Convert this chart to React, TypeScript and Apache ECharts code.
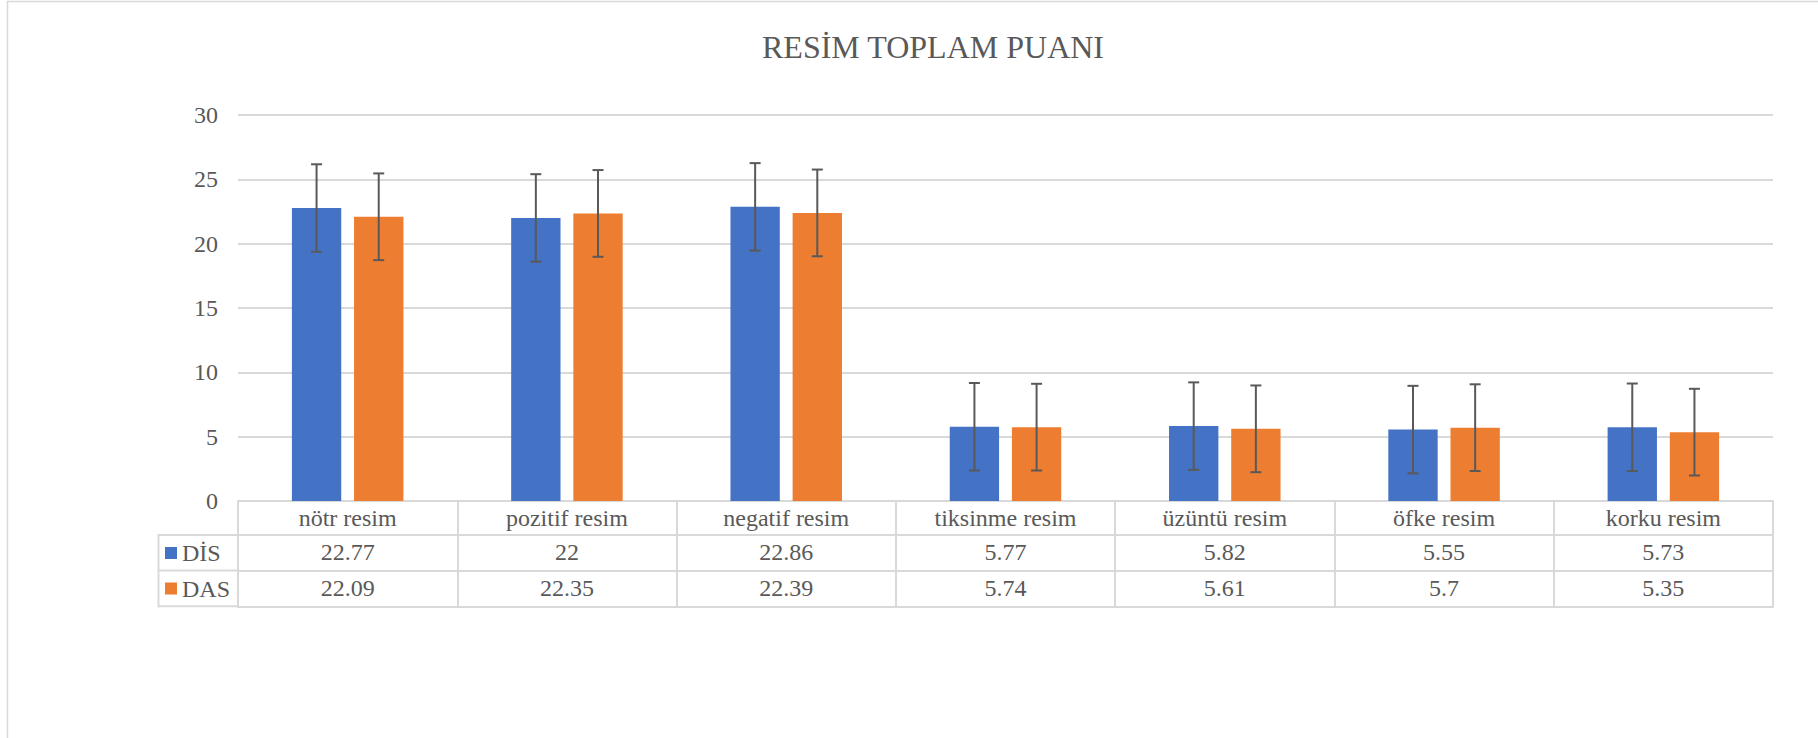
import React, { useEffect, useRef } from 'react';
import * as echarts from 'echarts';

const categories = ['nötr resim', 'pozitif resim', 'negatif resim', 'tiksinme resim', 'üzüntü resim', 'öfke resim', 'korku resim'];
const seriesNames = ['DİS', 'DAS'];
const disValues = [22.77, 22, 22.86, 5.77, 5.82, 5.55, 5.73];
const dasValues = [22.09, 22.35, 22.39, 5.74, 5.61, 5.7, 5.35];
const disErrors = [3.4, 3.4, 3.4, 3.4, 3.4, 3.4, 3.4];
const dasErrors = [3.37, 3.37, 3.37, 3.37, 3.37, 3.37, 3.37];
const yMin = 0;
const yMax = 30;
const yStep = 5;
const titleText = 'RESİM TOPLAM PUANI';

const FONT = 'Liberation Serif';
const TEXT = '#595959';
const LINE = '#d9d9d9';
const COLORS = ['#4472C4', '#ED7D31'];
const BAR_W = 0.225;
const BAR_GAP = 0.26;

export default function App() {
  const ref = useRef<HTMLDivElement>(null);

  useEffect(() => {
    if (!ref.current) return;
    const chart = echarts.init(ref.current, null, { renderer: 'svg' });

    const errData = (vals: number[], errs: number[]) => vals.map((v, i) => [i, v, errs[i]]);
    const makeErr = (sign: number) => (params: any, api: any) => {
      const i = api.value(0);
      const v = api.value(1);
      const e = api.value(2);
      const band = api.size([1, 0])[0];
      const off = (band * BAR_W * (1 + BAR_GAP) / 2) * sign;
      const top = api.coord([i, v + e]);
      const bot = api.coord([i, v - e]);
      const x = top[0] + off;
      const style = { stroke: TEXT, lineWidth: 2 };
      return {
        type: 'group',
        children: [
          { type: 'line', shape: { x1: x, y1: top[1], x2: x, y2: bot[1] }, style },
          { type: 'line', shape: { x1: x - 5.5, y1: top[1], x2: x + 5.5, y2: top[1] }, style },
          { type: 'line', shape: { x1: x - 5.5, y1: bot[1], x2: x + 5.5, y2: bot[1] }, style },
        ],
      };
    };

    const labelStyle = { fontSize: 24, color: TEXT, fontFamily: FONT };
    const lineStyle = { color: LINE, width: 2 };

    const rowAxis = (offset: number, tickLen: number, formatter: any, showLabel = true, showTick = true) => ({
      type: 'category',
      data: categories,
      position: 'bottom',
      offset,
      axisLine: { show: true, lineStyle },
      axisTick: { show: showTick, interval: 0, length: tickLen, lineStyle },
      axisLabel: {
        show: showLabel,
        interval: 0,
        margin: 17,
        verticalAlign: 'middle',
        formatter,
        fontSize: 24,
        color: TEXT,
        fontFamily: FONT,
      },
      splitLine: { show: false },
    });

    chart.setOption({
      animation: false,
      textStyle: { fontFamily: FONT },
      title: {
        text: titleText,
        left: 928,
        textAlign: 'center',
        top: 26,
        textStyle: { fontSize: 32, fontWeight: 'normal', color: TEXT, fontFamily: FONT },
      },
      grid: { left: 238, top: 115, width: 1535, height: 386 },
      legend: [
        {
          data: [seriesNames[0]],
          left: 165,
          top: 541,
          padding: 0,
          icon: 'rect',
          itemWidth: 12,
          itemHeight: 12,
          itemGap: 4,
          selectedMode: false,
          textStyle: { fontSize: 24, color: TEXT, fontFamily: FONT },
        },
        {
          data: [seriesNames[1]],
          left: 165,
          top: 576.5,
          padding: 0,
          icon: 'rect',
          itemWidth: 12,
          itemHeight: 12,
          itemGap: 4,
          selectedMode: false,
          textStyle: { fontSize: 24, color: TEXT, fontFamily: FONT },
        },
      ],
      xAxis: [
        rowAxis(0, 34, (v: string) => v),
        rowAxis(34, 35.6, (_v: string, i: number) => String(disValues[i])),
        rowAxis(69.6, 35.7, (_v: string, i: number) => String(dasValues[i])),
        rowAxis(105.3, 0, () => '', false, false),
      ],
      yAxis: {
        type: 'value',
        min: yMin,
        max: yMax,
        interval: yStep,
        axisLine: { show: false },
        axisTick: { show: false },
        axisLabel: { margin: 20, ...labelStyle },
        splitLine: { lineStyle },
      },
      graphic: [
        {
          type: 'rect',
          shape: { x: 7.5, y: 1.5, width: 1900, height: 1000 },
          style: { fill: 'none', stroke: LINE, lineWidth: 1.5 },
          silent: true,
        },
        { type: 'line', shape: { x1: 158, y1: 535, x2: 238, y2: 535 }, style: { stroke: LINE, lineWidth: 2 } },
        { type: 'line', shape: { x1: 158, y1: 570.6, x2: 238, y2: 570.6 }, style: { stroke: LINE, lineWidth: 2 } },
        { type: 'line', shape: { x1: 158, y1: 606.3, x2: 238, y2: 606.3 }, style: { stroke: LINE, lineWidth: 2 } },
        { type: 'line', shape: { x1: 158.5, y1: 534, x2: 158.5, y2: 607.3 }, style: { stroke: LINE, lineWidth: 2 } },
      ],
      series: [
        {
          name: seriesNames[0],
          type: 'bar',
          data: disValues,
          barWidth: `${BAR_W * 100}%`,
          barGap: `${BAR_GAP * 100}%`,
          itemStyle: { color: COLORS[0] },
        },
        {
          name: seriesNames[1],
          type: 'bar',
          data: dasValues,
          barWidth: `${BAR_W * 100}%`,
          barGap: `${BAR_GAP * 100}%`,
          itemStyle: { color: COLORS[1] },
        },
        {
          type: 'custom',
          data: errData(disValues, disErrors),
          renderItem: makeErr(-1),
          z: 5,
          silent: true,
        },
        {
          type: 'custom',
          data: errData(dasValues, dasErrors),
          renderItem: makeErr(1),
          z: 5,
          silent: true,
        },
      ],
    });

    return () => chart.dispose();
  }, []);

  return (
    <div
      ref={ref}
      style={{ position: 'absolute', left: 0, top: 0, width: 1818, height: 738, background: '#fff' }}
    />
  );
}
